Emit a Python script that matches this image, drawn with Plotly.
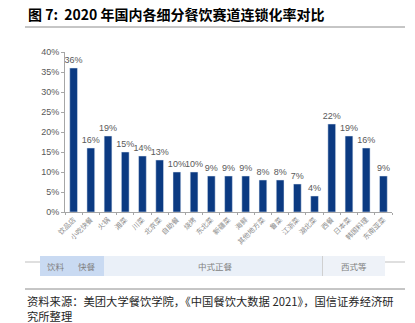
import plotly.graph_objects as go

# Chain-store rate by restaurant segment, 2020
categories = ["饮品店", "小吃快餐", "火锅", "湘菜", "川菜", "北京菜", "自助餐", "烧烤",
              "东北菜", "新疆菜", "海鲜", "其他地方菜", "鲁菜", "江浙菜", "湖北菜",
              "西餐", "日本菜", "韩国料理", "东南亚菜"]
chain_rate = [36, 16, 19, 15, 14, 13, 10, 10, 9, 9, 9, 8, 8, 7, 4, 22, 19, 16, 9]
y_ticks = [0, 5, 10, 15, 20, 25, 30, 35, 40]
y_tick_text = [f"{v}%" for v in y_ticks]

W, H = 415, 323
ML, MR, MT, MB = 65, 23, 52, 111
PW, PH = W - ML - MR, H - MT - MB

CJK = "Noto Sans CJK SC"
NAVY = "#0b3a82"
GRAY = "#595959"


def px(x):
    return (x - ML) / PW


def py(y):
    return (H - MB - y) / PH


fig = go.Figure(go.Bar(
    x=categories, y=chain_rate,
    marker_color=NAVY,
    text=[f"{v}%" for v in chain_rate],
    textposition="outside",
    constraintext="none",
    textfont=dict(family="Liberation Sans, Arial", size=9, color=GRAY),
    cliponaxis=False,
    width=0.45,
))

fig.update_layout(
    width=W, height=H,
    margin=dict(l=ML, r=MR, t=MT, b=MB),
    paper_bgcolor="white", plot_bgcolor="white",
    showlegend=False,
    font=dict(family=CJK),
)
fig.update_yaxes(
    range=[0, 40], tickvals=y_ticks, ticktext=y_tick_text,
    showgrid=False, zeroline=False,
    showline=True, linecolor="#a6a6a6", linewidth=1,
    ticks="outside", ticklen=3, tickcolor="#a6a6a6",
    tickfont=dict(family="Liberation Sans, Arial", size=9, color=GRAY),
)
fig.update_xaxes(
    showgrid=False, showline=True, linecolor="#a6a6a6", linewidth=1,
    ticks="outside", ticklen=2, tickcolor="#a6a6a6", tickson="boundaries",
    tickangle=-45,
    tickfont=dict(family=CJK, size=7, color="#8c8c8c"),
)

shapes = []
annotations = []

# title and rule below it
annotations.append(dict(
    text="<b>图 7:  2020 年国内各细分餐饮赛道连锁化率对比</b>",
    xref="paper", yref="paper", x=px(26), y=py(14), xanchor="left", yanchor="middle",
    showarrow=False, font=dict(family=CJK, size=14, color="#000000"),
))
shapes.append(dict(type="line", xref="paper", yref="paper",
                   x0=px(25), x1=px(405), y0=py(27), y1=py(27),
                   line=dict(color="#8c8c8c", width=1)))

# segment band below the axis
band_top, band_bot = 256, 276
shapes += [
    dict(type="line", xref="paper", yref="paper", x0=px(25), x1=px(40),
         y0=py(262), y1=py(262), line=dict(color="#bfbfbf", width=1)),
    dict(type="line", xref="paper", yref="paper", x0=px(385), x1=px(405),
         y0=py(262), y1=py(262), line=dict(color="#bfbfbf", width=1)),
    dict(type="rect", xref="paper", yref="paper", x0=px(40), x1=px(104),
         y0=py(band_bot), y1=py(band_top), fillcolor="#c9daf2", line_width=0),
    dict(type="rect", xref="paper", yref="paper", x0=px(104), x1=px(322),
         y0=py(band_bot), y1=py(band_top), fillcolor="#eaf0f8", line_width=0),
    dict(type="rect", xref="paper", yref="paper", x0=px(323), x1=px(385),
         y0=py(band_bot), y1=py(band_top), fillcolor="#eef2f8", line_width=0),
    dict(type="line", xref="paper", yref="paper", x0=px(322.5), x1=px(322.5),
         y0=py(band_bot), y1=py(band_top), line=dict(color="#d0d0d0", width=1)),
]
for label, xc in [("饮料", 56), ("快餐", 87), ("中式正餐", 215), ("西式等", 354)]:
    annotations.append(dict(
        text=label, xref="paper", yref="paper", x=px(xc), y=py(266),
        xanchor="center", yanchor="middle", showarrow=False,
        font=dict(family=CJK, size=8.5, color="#7f7f7f"),
    ))

# source note
shapes.append(dict(type="line", xref="paper", yref="paper",
                   x0=px(25), x1=px(405), y0=py(289), y1=py(289),
                   line=dict(color="#8c8c8c", width=1)))
annotations.append(dict(
    text="资料来源：美团大学餐饮学院，《中国餐饮大数据 2021》，国信证券经济研<br>究所整理",
    xref="paper", yref="paper", x=px(25), y=py(291), xanchor="left", yanchor="top",
    align="left", showarrow=False,
    font=dict(family=CJK, size=11.3, color="#262626"),
))

fig.update_layout(shapes=shapes, annotations=annotations)
fig.write_html("out.html")
